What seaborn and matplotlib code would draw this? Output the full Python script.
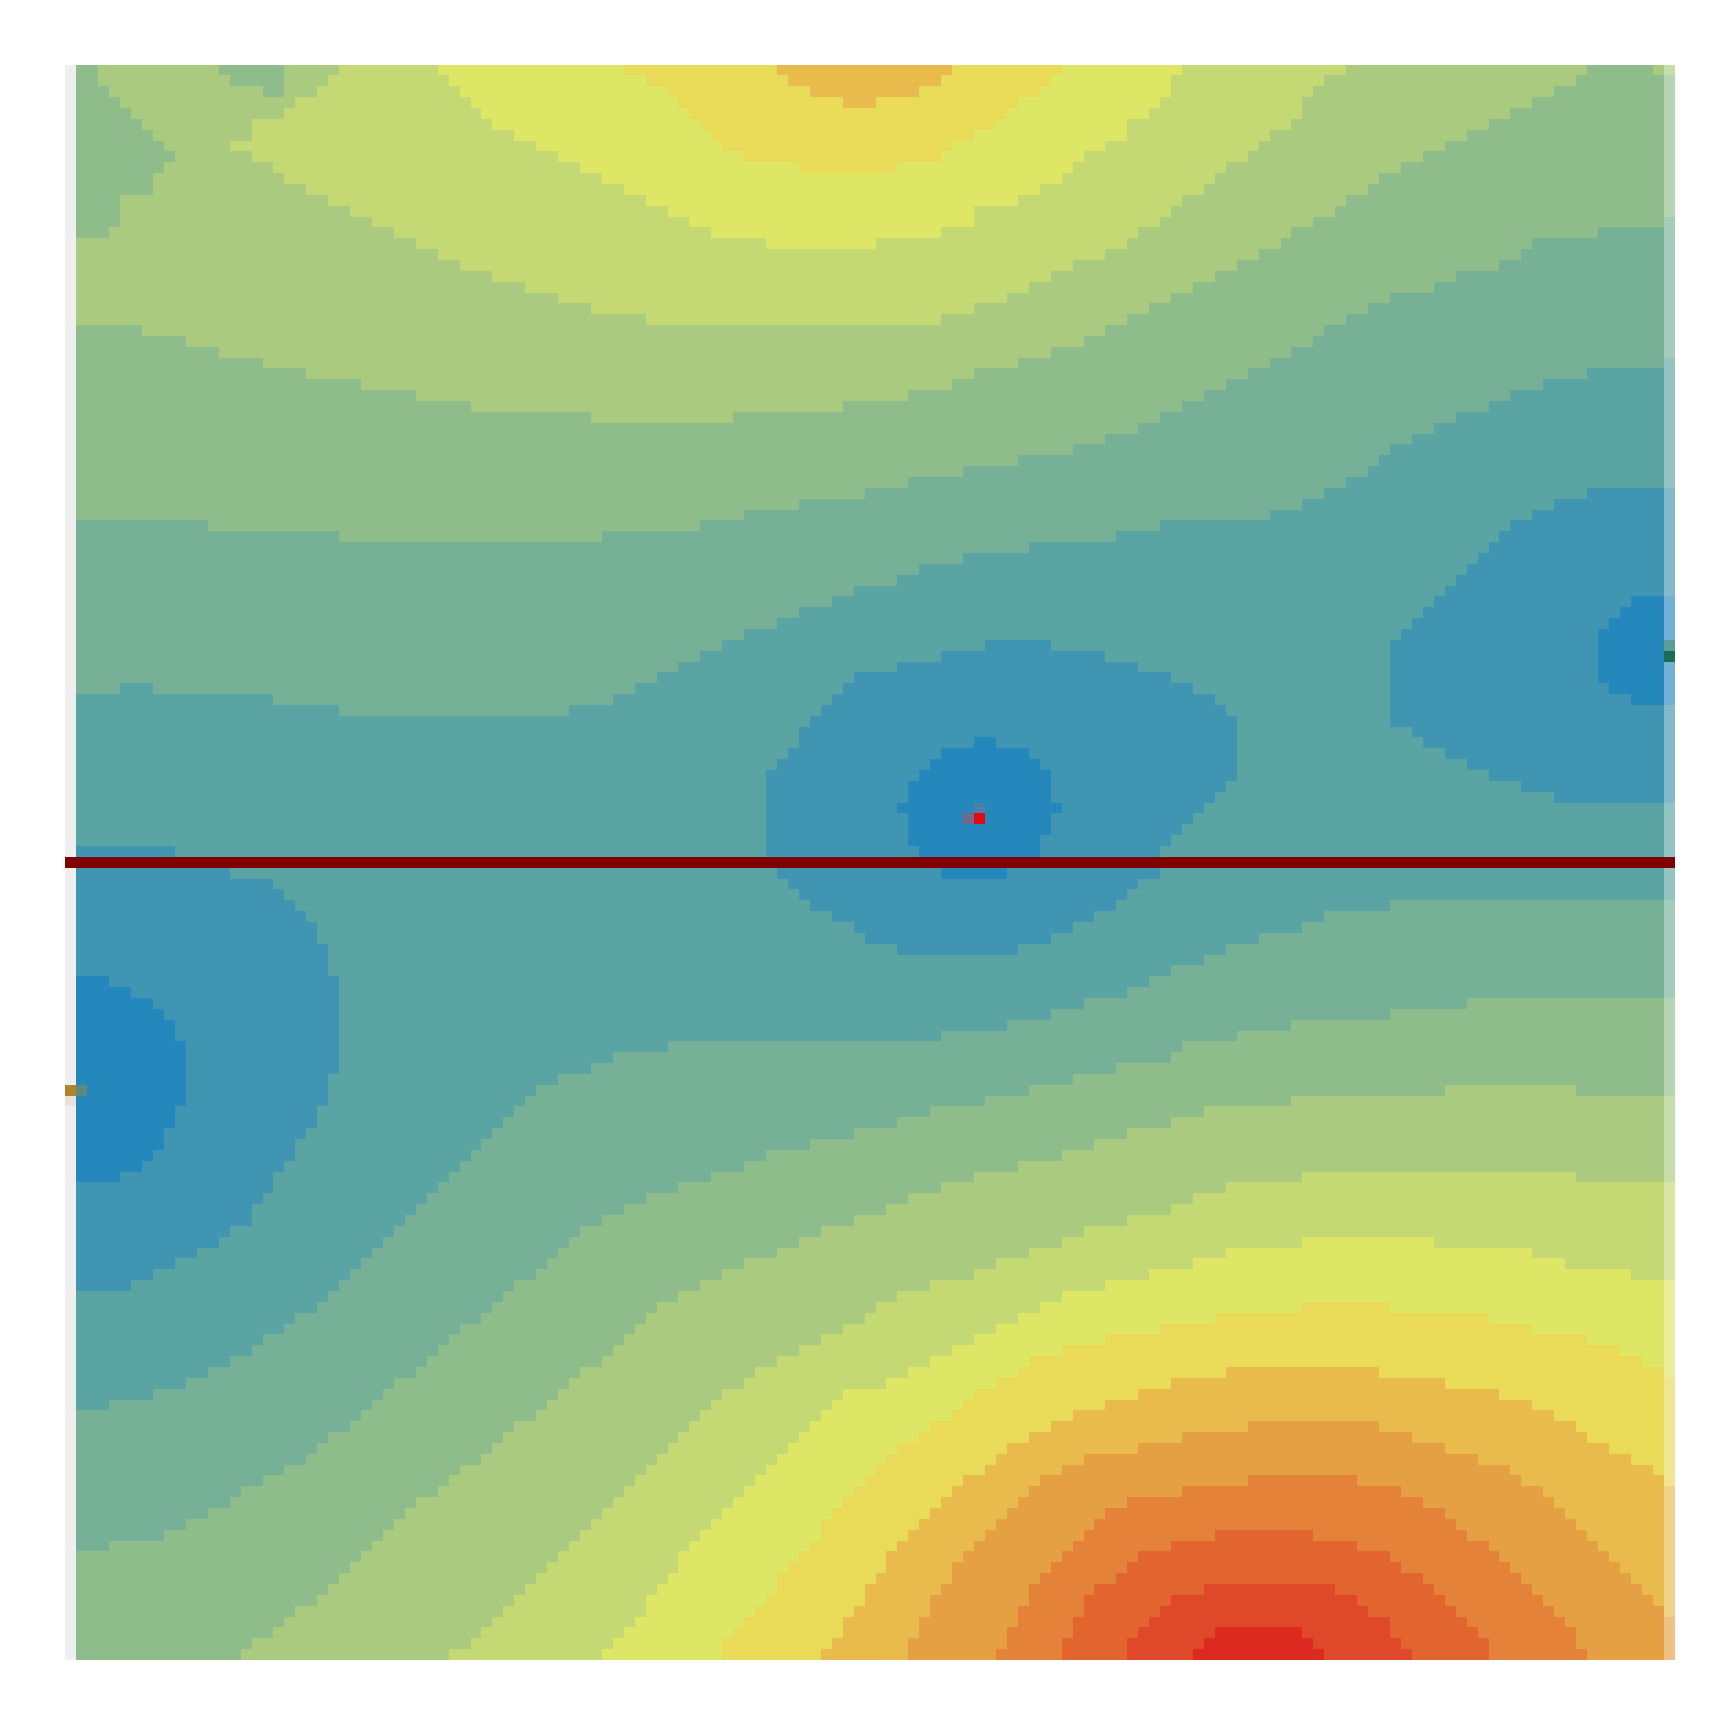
import re
import numpy as np
import matplotlib
matplotlib.use("Agg")
import matplotlib.pyplot as plt
from matplotlib.colors import ListedColormap
import seaborn as sns

# Colour of each band, a (lowest) to o (highest)
band_colors = ["#2488BD", "#4096B2", "#5AA4A4", "#76B197", "#8FBC8B", "#A9CA7F", "#C4D973", "#DDE665",
               "#E9DA58", "#E8BB4C", "#E6A044", "#E5823A", "#E2652F", "#DF4828", "#DD2A20"]

# Field, one string per row: band letter + column where the run ends
rows_top = [
 "e3f14e20f25g34h51i65j81i91h102g117f139e145f147", "e3f15e20f24g35h53i66j80i90h101g115f138e147",
 "e4f18e20f23g36h55i68j78i89h101g114f136e147", "e5f21g37h56i71j74i87h100g113f134e147",
 "e6f20g38h57i86h99g113f132e147", "e7f17g39h58i85h97g112f130e147", "e8f17g41h59i83h97g110f128e147",
 "e9f15g43h60i81h95g109f126e147", "e10f17g45h62i80h93g108f124e147", "e9f19g47h67i76h92g106f122e147",
 "e8f20g49h91g105f120e147", "e8f22g51h89g104f119e147", "e5f24g53h87g102f117e147", "e5f26g55h83g101f116e147",
 "e5f28g57h83g100f114e146d147", "e4f30g59h80g98f112e140d147", "f32g64h74g97f111e134d147",
 "f34g95f109e133d147", "f36g92f107e131d147", "f39g90f105e127d147", "f42g88f103e125d147",
 "f45g86f101e121d147", "f48g83f99e119d147", "f53g80f97e117d147", "e7f95e115d147", "e11f93e114d147",
 "e14f90e112d147", "e18f87e110d146c147", "e22f83e108d139c147", "e27f81e106d135c147", "e32f77e104d132c147",
 "e37f71e102d130c147", "e48f61e100d127c147", "e98d125c147", "e95d123c147", "e92d121c147", "e87d120c147",
 "e82d119c147", "e77d117c147", "e73d115c139b147", "e67d113c136b147", "e62d110c134b147",
 "d13e58d100c132b147", "d25e49d96c131b147", "d88c130b147", "d82c129b147", "d78c128b147", "d76c127b147",
 "d72c126b147",
]
rows_middle = [
 "d70c125b143a147", "d67c124b142a147", "d65c123b141a147", "d62c122b140a147", "d60c84b90c121b140a147",
 "d58c80b95c121b140a147", "d56c76b98c121b140a147", "d54c72b101c121b140a147", "d5c8d52c71b103c121b141a147",
 "c19d50c70b105c121b143a147", "c25d46c69b106c121b147", "c68b107c121b147", "c67b107c123b147",
 "c67b83a85b107c124b147", "c66b80a88b107c126b147", "c65b79a89b107c128b147", "c64b78a90b107c130b147",
 "c64b77a90b106c133b147", "c64b77a90b105c136b147", "c64b76a91b104c147", "c64b77a90b103c147",
 "c64b77a90b102c147", "c64b77a89b101c147", "b10c64b78a89b100c147", "b15c65b78a89b100c147",
 "b15c65b80a86b100c147", "b19c66b98c147", "b20c67b97c147", "b21c68b96c121d147", "b22c70b94c115d147",
 "b23c72b92c113d147", "b23c73b90c109d147", "b24c76b87c106d147", "b24c104d147", "b24c101d147", "a4b25c99d147",
 "a6b25c97d147", "a8b25c93d128e147", "a9b25c90d121e147", "a10b25c86d112e147", "a10b25c80d107e147",
 "a11b25c55d102e147", "a11b25c50d101e147", "a11b25c48d96e147", "a11b24c45d92e147", "a11b24c43d88e126f138e147",
 "a11b24c42d84e112f147", "a10b23c41d79e104f147", "a10b23c40d76e101f147",
]
rows_bottom = [
 "a9b22c39d72e97f147", "a9b21c38d68e94f147", "a8b21c37d64e91f147", "a7b20c36d62e87f147",
 "a5b19c35d59e83f113g138f147", "b19c34d56e80f106g147", "b18c33d53e77f103g147", "b17c32d51e75f101g147",
 "b17c31d49e72f97g147", "b15c30d47e69f93g147", "b14c29d46e67f91g113h125g147", "b12c28d45e65f88g106h134g147",
 "b10c27d44e62f85g103h137g147", "b8c26d43e60f83g99h143g147", "b6c25d41e58f79g95h147", "c24d40e56f76g91h147",
 "c23d39e54f74g89h113i121h147", "c21d38e53f73g87h105i130h147", "c20d36e52f71g85h100i134h147",
 "c18d35e51f69g83h95i139h147", "c17d34e50f67g81h91i142h147", "c15d33e49f65g79h88i144h147",
 "c13d32e47f63g77h87i106j120i146h147", "c11d30e46f62g75h85i101j126i147", "c8d29e45f60g71h83i98j131i147",
 "c4d28e44f59g70h82i95j134i147", "d27e43f58g69h81i92j136i147", "d26e41f57g68h79i90j108k120j138i147",
 "d24e40f56g67h78i88j102k123j139i147", "d23e39f55g66h76i86j98k126j141i147", "d22e38f54g65h75i85j93k129j143i147",
 "d20e36f53g64h74i84j91k132j145i147", "d18e35f52g63h73i82j89k108l118k133j146i147",
 "d16e34f51g62h72i81j88k102l122k135j147", "d15e32f50g61h71i80j87k97l124k136j147",
 "d13e31f49g60h70i79j86k95l126k137j147", "d11e30f48g59h69i78j85k94l127k138j147",
 "d9e29f47g58h69i77j84k93l105m114l128k139j147", "d4e28f46g57h68i76j83k92l101m118l130k140j147",
 "e27f45g56h67i75j82k91l98m121l131k141j147", "e26f44g56h66i75j81k90l97m122l132k142j147",
 "e25f43g55h65i74j81k89l96m124l133k143j147", "e24f42g54h65i73j80k88l94m104n116m125l134k144j147",
 "e23f41g53h64i73j79k88l93m101n118m126l135k145j147", "e21f40g53h63i72j79k87l93m100n119m127l136k146j147",
 "e20f39g52h62i71j78k87l92m99n121m128l137k147", "e19f38g51h61i71j78k86l92m98n105o113n121m129l138k147",
 "e17f37g50h60i70j77k86l91m97n104o114n122m130l138k147", "e16f35g49h60i69j77k85l91m97n103o115n123m130l139k147",
]

# Separate cells and lines painted over the field
line_row = 73
line_color = "#800000"
blank_col = 0
blank_color = "#EFEFEF"
faded_col = 146
faded_alpha = 0.35
spot_rows = [69, 69, 68, 54, 53, 94, 94, 95]
spot_cols = [83, 82, 83, 146, 146, 0, 1, 0]
spot_colors = ["#E00A10", "#726A8C", "#4D7FA8", "#1A6E55", "#5D9C97", "#B08528", "#60897E", "#E9E2DC"]

all_rows = rows_top + rows_middle + rows_bottom
n_rows, n_cols = len(all_rows), 147
field = np.zeros((n_rows, n_cols))
for r, text in enumerate(all_rows):
    start = 0
    for letter, end in re.findall(r"([a-o])(\d+)", text):
        field[r, start:int(end)] = ord(letter) - ord("a")
        start = int(end)

fig = plt.figure(figsize=(17.31, 17.31), dpi=100)
W = H = 1731
ax = fig.add_axes([65.5 / W, 1 - 1661 / H, (1674.6 - 65.5) / W, (1661 - 65.6) / H])

common = dict(ax=ax, cbar=False, xticklabels=False, yticklabels=False, linewidths=0)
sns.heatmap(field, cmap=ListedColormap(band_colors), vmin=0, vmax=len(band_colors) - 1, **common)

faded = np.full(field.shape, np.nan)
faded[:, faded_col] = 0
sns.heatmap(faded, cmap=ListedColormap(["#FFFFFF"]), vmin=0, vmax=1, alpha=faded_alpha, **common)

blank = np.full(field.shape, np.nan)
blank[:, blank_col] = 0
sns.heatmap(blank, cmap=ListedColormap([blank_color]), vmin=0, vmax=1, **common)

top_colors = [line_color] + spot_colors
top = np.full(field.shape, np.nan)
top[line_row, :] = 0
for i, (r, c) in enumerate(zip(spot_rows, spot_cols)):
    top[r, c] = i + 1
sns.heatmap(top, cmap=ListedColormap(top_colors), vmin=0, vmax=len(top_colors) - 1, **common)

ax.set_xlabel("")
ax.set_ylabel("")
ax.tick_params(length=0)
fig.savefig("out.png", dpi=100, facecolor="white")
